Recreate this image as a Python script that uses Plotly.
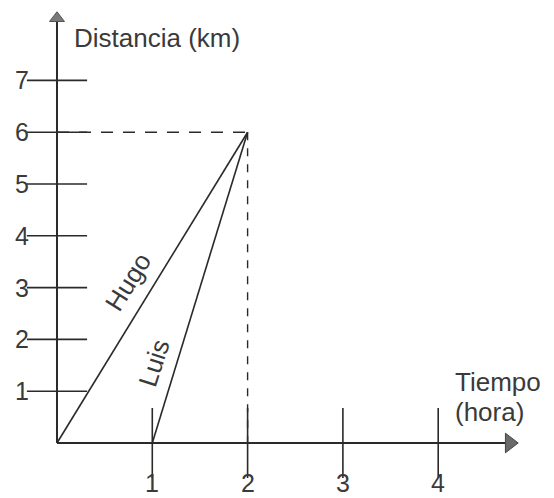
import plotly.graph_objects as go

# Data
hugo_t = [0, 2]
hugo_d = [0, 6]
luis_t = [1, 2]
luis_d = [0, 6]
x_ticks = [1, 2, 3, 4]
y_ticks = [1, 2, 3, 4, 5, 6, 7]
x_tick_labels = ["1", "2", "3", "4"]
y_tick_labels = ["1", "2", "3", "4", "5", "6", "7"]
meet_t = 2
meet_d = 6

INK = "#2a2a2a"
TXT = "#3a3a3a"
FONT = "Liberation Sans, Arial, sans-serif"

fig = go.Figure()

# dashed guides
fig.add_trace(go.Scatter(x=[0, meet_t], y=[meet_d, meet_d], mode="lines",
                         line=dict(color=INK, width=1.6, dash="12px,10px"), hoverinfo="skip"))
fig.add_trace(go.Scatter(x=[meet_t, meet_t], y=[meet_d, 0], mode="lines",
                         line=dict(color=INK, width=1.4, dash="8px,8px"), hoverinfo="skip"))

# axes lines
fig.add_trace(go.Scatter(x=[0, 4.75], y=[0, 0], mode="lines",
                         line=dict(color=INK, width=2), hoverinfo="skip"))
fig.add_trace(go.Scatter(x=[0, 0], y=[0, 8.2], mode="lines",
                         line=dict(color=INK, width=2), hoverinfo="skip"))
# arrow heads
fig.add_trace(go.Scatter(x=[4.75], y=[0], mode="markers",
                         marker=dict(symbol="triangle-right", size=17, color="#6a6a6a",
                                     line=dict(color="#444", width=1)), hoverinfo="skip"))
fig.add_trace(go.Scatter(x=[0], y=[8.2], mode="markers",
                         marker=dict(symbol="triangle-up", size=13, color="#7a7a7a",
                                     line=dict(color="#555", width=1)), hoverinfo="skip"))

# tick marks
fig.add_trace(go.Scatter(x=[0] * len(y_ticks), y=y_ticks, mode="markers",
                         marker=dict(symbol="line-ew", size=43, line=dict(color=INK, width=1.6)),
                         hoverinfo="skip"))
fig.add_trace(go.Scatter(x=x_ticks, y=[0] * len(x_ticks), mode="markers",
                         marker=dict(symbol="line-ns", size=50, line=dict(color=INK, width=1.6)),
                         hoverinfo="skip"))

# Hugo and Luis
fig.add_trace(go.Scatter(x=hugo_t, y=hugo_d, mode="lines", name="Hugo",
                         line=dict(color=INK, width=1.6)))
fig.add_trace(go.Scatter(x=luis_t, y=luis_d, mode="lines", name="Luis",
                         line=dict(color=INK, width=1.6)))

annotations = []
for v, lab in zip(y_ticks, y_tick_labels):
    annotations.append(dict(x=0, y=v, text=lab, showarrow=False, xshift=-35,
                            font=dict(size=25, color=TXT, family=FONT)))
for v, lab in zip(x_ticks, x_tick_labels):
    annotations.append(dict(x=v, y=0, text=lab, showarrow=False, yshift=-40,
                            font=dict(size=25, color=TXT, family=FONT)))

annotations += [
    dict(x=0.157, y=7.82, text="Distancia (km)", showarrow=False, xanchor="left",
         font=dict(size=26, color=TXT, family=FONT)),
    dict(x=4.155, y=1.18, text="Tiempo", showarrow=False, xanchor="left",
         font=dict(size=26, color=TXT, family=FONT)),
    dict(x=4.155, y=0.6, text="(hora)", showarrow=False, xanchor="left",
         font=dict(size=26, color=TXT, family=FONT)),
    dict(x=0.745, y=3.11, text="Hugo", showarrow=False, textangle=-58,
         font=dict(size=26, color=TXT, family=FONT)),
    dict(x=1.018, y=1.545, text="Luis", showarrow=False, textangle=-72,
         font=dict(size=26, color=TXT, family=FONT)),
]

# page body has an 8px margin: figure is placed at (8, 8)
fig.update_layout(
    width=546, height=490,
    margin=dict(l=0, r=0, t=0, b=0),
    paper_bgcolor="white", plot_bgcolor="white",
    showlegend=False,
    xaxis=dict(range=[-0.514, 5.215], visible=False, fixedrange=True),
    yaxis=dict(range=[-1.062, 8.398], visible=False, fixedrange=True),
    annotations=annotations,
)

fig.write_html("out.html")
